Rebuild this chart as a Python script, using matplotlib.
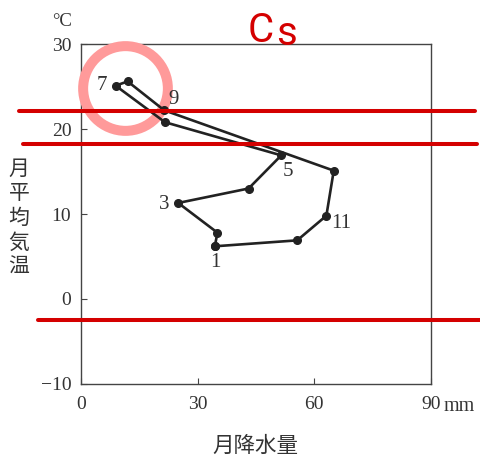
import matplotlib.pyplot as plt
import matplotlib.transforms as mtransforms

# monthly precipitation (mm) and mean temperature (deg C), Jan..Dec
precip = [34.4, 35.1, 25.0, 43.1, 51.5, 21.6, 8.9, 12.0, 21.4, 65.0, 63.1, 55.6]
temp = [6.2, 7.8, 11.3, 13.0, 16.9, 20.8, 25.1, 25.6, 22.2, 15.1, 9.8, 6.9]
month_labels = ['1', '3', '5', '7', '9', '11']

# climate boundary lines (deg C)
bounds = [22.1, 18.2, -2.5]

x_ticks = [0, 30, 60, 90]
y_ticks = [-10, 0, 10, 20, 30]
y_tick_labels = ['\u221210', '0', '10', '20', '30']

SERIF = 'Liberation Serif'
CJK = ['Noto Sans CJK JP', 'DejaVu Sans']
TXT = '#333333'

fig = plt.figure(figsize=(4.8, 4.58), dpi=100)
ax = fig.add_axes([0.16875, 0.1616, 0.7291, 0.7423])

# closed loop through the twelve months
xs = precip + [precip[0]]
ys = temp + [temp[0]]
ax.plot(xs, ys, color='#222222', lw=1.9, marker='o', ms=5.5,
        solid_joinstyle='round', zorder=4)

# label offsets in points for months 1,3,5,7,9,11
offsets = {'1': (0.7, -11.4), '3': (-10.3, -0.9), '5': (5, -11.5),
           '7': (-9.9, 0), '9': (7, 7.6), '11': (10.8, -5.8)}
for lab in month_labels:
    i = int(lab) - 1
    ax.annotate(lab, (precip[i], temp[i]), xytext=offsets[lab],
                textcoords='offset points', ha='center', va='center',
                fontsize=15, family=SERIF, color=TXT, zorder=6)

# highlight ring around the summer months
ax.plot(11.3, 24.8, 'o', ms=61, mfc='none', mec='#ff9a9a', mew=7.2,
        clip_on=False, zorder=2.6)

# boundary lines running past the axes
trans = mtransforms.blended_transform_factory(fig.transFigure, ax.transData)
x_starts = [19 / 480, 23 / 480, 38 / 480]
x_ends = [475 / 480, 477 / 480, 1.0]
for b, x0, x1 in zip(bounds, x_starts, x_ends):
    ax.plot([x0, x1], [b, b], transform=trans, color='#d40000', lw=2.9,
            solid_capstyle='round', clip_on=False, zorder=5)

ax.set_xlim(0, 90)
ax.set_ylim(-10, 30)
ax.set_xticks(x_ticks)
ax.set_xticklabels([str(t) for t in x_ticks], family=SERIF, fontsize=14, color=TXT)
ax.set_yticks(y_ticks)
ax.set_yticklabels(y_tick_labels, family=SERIF, fontsize=14, color=TXT)
ax.tick_params(axis='x', direction='in', length=4, width=0.8, color='#444444',
               pad=8.5, top=False)
ax.tick_params(axis='y', direction='in', length=4, width=0.8, color='#444444',
               pad=7, right=False)
for sp in ax.spines.values():
    sp.set_color('#444444')
    sp.set_linewidth(1.0)

# unit labels
ax.text(1.036, -0.0375, 'mm', transform=ax.transAxes, ha='left', va='top',
        family=SERIF, fontsize=14.5, color=TXT)
fig.text(62 / 480, 1 - 22 / 458, '°C', ha='center', va='center',
         family=SERIF, fontsize=13.5, color=TXT)

# climate type heading, letters spaced apart
fig.text(261 / 480, 1 - 31 / 458, 'C', ha='center', va='center',
         family='Roboto', fontsize=29, color='#d40000')
fig.text(286.5 / 480, 1 - 33.5 / 458, 's', ha='center', va='center',
         family='Roboto', fontsize=29, color='#d40000')

fig.text(19 / 480, 1 - 218 / 458, '\n'.join('月平均気温'), ha='center',
         va='center', family=CJK, fontsize=15, color=TXT, linespacing=1.15)
fig.text(255 / 480, 1 - 446 / 458, '月降水量', ha='center', va='center',
         family=CJK, fontsize=15.5, color=TXT)

fig.savefig('out.png', dpi=100)
